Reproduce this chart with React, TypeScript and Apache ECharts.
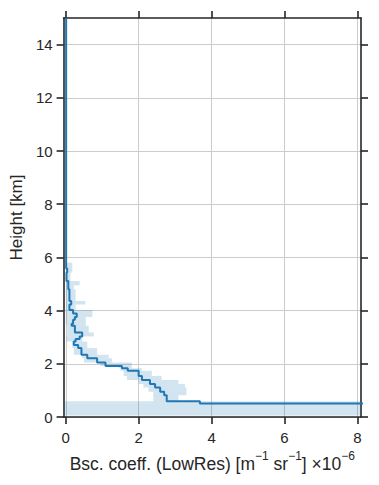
import React, { useEffect, useRef } from "react";
import * as echarts from "echarts";

// Height bin edges [km], top to bottom
const heightEdges = [
  15, 5.8, 5.58, 5.43, 5.11, 4.95, 4.8, 4.55, 4.36, 4.23, 4.02, 3.89, 3.76, 3.66,
  3.51, 3.43, 3.18, 3.03, 2.93, 2.84, 2.71, 2.59, 2.34, 2.21, 2.05, 1.92, 1.83,
  1.74, 1.54, 1.39, 1.24, 1.11, 0.95, 0.82, 0.59, 0.51, 0.06,
];
// Backscatter coefficient per bin [x1e-6 m^-1 sr^-1]
const bsc = [
  0.01, 0.01, 0.04, 0.02, 0.07, 0.07, 0.1, 0.1, 0.15, 0.1,
  0.2, 0.3, 0.25, 0.2, 0.16, 0.25, 0.45, 0.38, 0.27, 0.22,
  0.34, 0.43, 0.59, 0.86, 1.09, 1.54, 1.7, 2.0, 2.09, 2.31,
  2.45, 2.59, 2.7, 2.77, 3.68, 30,
];
const bscLo = [
  0, -0.01, 0, 0, 0, 0, 0, 0, 0, 0,
  0, 0, 0, 0, 0.02, 0.04, 0.04, 0.02, 0.02, 0.18,
  0.18, 0.22, 0.45, 0.5, 0.95, 1.45, 1.5, 1.59, 1.68, 2.0,
  2.13, 2.27, 2.4, 2.4, -0.2, -0.2,
];
const bscHi = [
  0.02, 0.18, 0.18, 0.13, 0.38, 0.22, 0.27, 0.27, 0.54, 0.27,
  0.73, 0.73, 0.55, 0.55, 0.55, 0.63, 0.77, 0.45, 0.45, 0.59,
  0.59, 0.86, 1.18, 1.27, 1.81, 1.81, 2.09, 2.36, 2.63, 3.09,
  3.27, 3.31, 3.31, 3.09, 40, 40,
];
const xTicks = [0, 2, 4, 6, 8];
const yTicks = [0, 2, 4, 6, 8, 10, 12, 14];

const FONT = "'Liberation Sans', Arial, 'DejaVu Sans', sans-serif";
const DARK = "#262626";

export default function App() {
  const ref = useRef<HTMLDivElement>(null);
  useEffect(() => {
    if (!ref.current) return;
    const chart = echarts.init(ref.current, undefined, { renderer: "svg" });

    const lineData: number[][] = [];
    const bandData: number[][] = [];
    for (let i = 0; i < bsc.length; i++) {
      lineData.push([bsc[i], heightEdges[i]]);
      lineData.push([bsc[i], heightEdges[i + 1]]);
      bandData.push([bscLo[i], bscHi[i], heightEdges[i], heightEdges[i + 1]]);
    }

    const axisCommon = {
      axisLine: { show: true, onZero: false, lineStyle: { color: DARK, width: 1.6 } },
      axisTick: { show: true, inside: false, length: 7, lineStyle: { color: DARK, width: 1.6 } },
    };

    const option: any = {
      animation: false,
      backgroundColor: "#ffffff",
      grid: { left: 61, right: 18, top: 18, bottom: 68, containLabel: false },
      xAxis: [
        {
          type: "value",
          position: "bottom",
          min: -0.06,
          max: 8.1,
          ...axisCommon,
          axisTick: { ...axisCommon.axisTick, customValues: xTicks },
          axisLabel: {
            customValues: xTicks,
            color: DARK,
            fontSize: 15,
            fontFamily: FONT,
            margin: 13,
          },
          splitLine: { show: true, lineStyle: { color: "#cccccc", width: 1 } },
          name:
            "{a|Bsc. coeff. (LowRes) [m}{s|−1}{a| sr}{s|−1}{a|] ×10}{s|−6}",
          nameLocation: "middle",
          nameGap: 33,
          nameTextStyle: {
            rich: {
              a: { fontSize: 17.5, fontFamily: FONT, color: DARK, verticalAlign: "bottom", lineHeight: 23 },
              s: { fontSize: 12, fontFamily: FONT, color: DARK, verticalAlign: "top", lineHeight: 23 },
            },
          },
        },
        {
          type: "value",
          position: "top",
          min: -0.06,
          max: 8.1,
          ...axisCommon,
          axisTick: { ...axisCommon.axisTick, customValues: xTicks },
          axisLabel: { show: false },
          splitLine: { show: false },
        },
      ],
      yAxis: [
        {
          type: "value",
          position: "left",
          min: 0,
          max: 15,
          ...axisCommon,
          axisTick: { ...axisCommon.axisTick, customValues: yTicks },
          axisLabel: {
            customValues: yTicks,
            color: DARK,
            fontSize: 15,
            fontFamily: FONT,
            margin: 11,
          },
          splitLine: { show: true, lineStyle: { color: "#cccccc", width: 1 } },
          name: "Height [km]",
          nameLocation: "middle",
          nameGap: 36,
          nameTextStyle: { fontSize: 17, fontFamily: FONT, color: DARK },
        },
        {
          type: "value",
          position: "right",
          min: 0,
          max: 15,
          ...axisCommon,
          axisTick: { ...axisCommon.axisTick, customValues: yTicks },
          axisLabel: { show: false },
          splitLine: { show: false },
        },
      ],
      series: [
        {
          type: "custom",
          xAxisIndex: 0,
          yAxisIndex: 0,
          data: bandData,
          silent: true,
          renderItem: (params: any, api: any) => {
            const p1 = api.coord([api.value(0), api.value(2)]);
            const p2 = api.coord([api.value(1), api.value(3)]);
            const rect = echarts.graphic.clipRectByRect(
              { x: p1[0], y: p1[1], width: p2[0] - p1[0], height: p2[1] - p1[1] },
              {
                x: params.coordSys.x,
                y: params.coordSys.y,
                width: params.coordSys.width,
                height: params.coordSys.height,
              }
            );
            if (!rect) return null;
            return {
              type: "rect",
              shape: rect,
              style: { fill: "rgba(31,119,180,0.2)", stroke: null },
            };
          },
          z: 1,
        },
        {
          type: "line",
          xAxisIndex: 0,
          yAxisIndex: 0,
          data: lineData,
          showSymbol: false,
          clip: true,
          lineStyle: { color: "#1f77b4", width: 2 },
          itemStyle: { color: "#1f77b4" },
          z: 3,
        },
      ],
    };
    chart.setOption(option);
    return () => chart.dispose();
  }, []);

  return <div ref={ref} style={{ width: 379, height: 485, position: "absolute", left: 0, top: 0 }} />;
}
